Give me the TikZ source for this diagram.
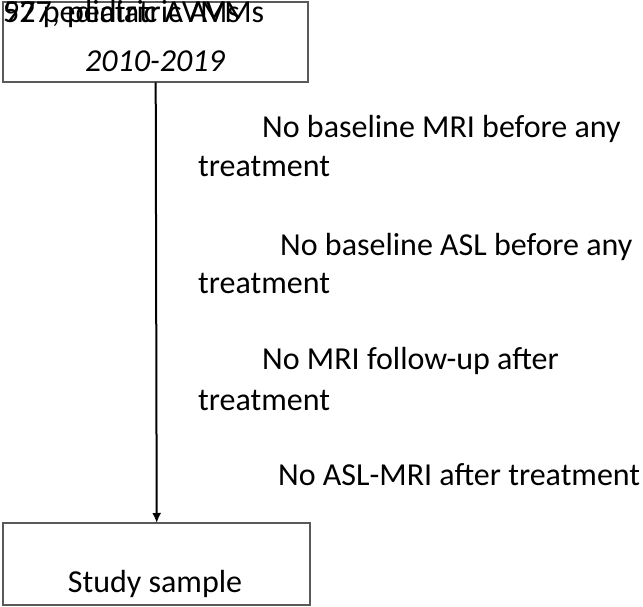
\documentclass[tikz,border=0pt]{standalone}
\usepackage{fontspec}
\setmainfont{Carlito}
\usetikzlibrary{arrows.meta}
\begin{document}
\begin{tikzpicture}[x=1pt,y=-1pt,
  boxstyle/.style={draw=black!65,line width=1.2pt},
  txt/.style={anchor=base west,inner sep=0pt,font=\fontsize{32}{38}\selectfont},
  ctxt/.style={anchor=base,inner sep=0pt,font=\fontsize{32}{38}\selectfont},
  flow/.style={line width=2pt,-{Latex[length=10pt,width=9pt]}}]
\useasboundingbox (0,0) rectangle (643,607);
\draw[boxstyle] (3,2) rectangle (308,82);
\node[draw=none,minimum width=305pt,minimum height=80pt,anchor=north west,inner sep=0pt] (top) at (3,2) {};
\node[txt] (t1a) at (3,23) {527, pediatric AVMs};
\node[txt] (t1b) at (3,23) {97 pediatric AVMs};
\node[ctxt] (t2) at (155,72) {\itshape 2010-2019};
\draw[boxstyle] (3,523) rectangle (310,605);
\node[draw=none,minimum width=307pt,minimum height=82pt,anchor=north west,inner sep=0pt] (bot) at (3,523) {};
\node[ctxt] (ss) at (155,592) {Study sample};
\draw[flow] (top.south) -- (bot.north);
\node[txt] (e1a) at (262,138) {No baseline MRI before any};
\node[txt] (e1b) at (198,177) {treatment};
\node[txt] (e2a) at (280,255) {No baseline ASL before any};
\node[txt] (e2b) at (198,293) {treatment};
\node[txt] (e3a) at (262,369) {No MRI follow-up after};
\node[txt] (e3b) at (198,410) {treatment};
\node[txt] (e4) at (278,485) {No ASL-MRI after treatment};
\end{tikzpicture}
\end{document}
